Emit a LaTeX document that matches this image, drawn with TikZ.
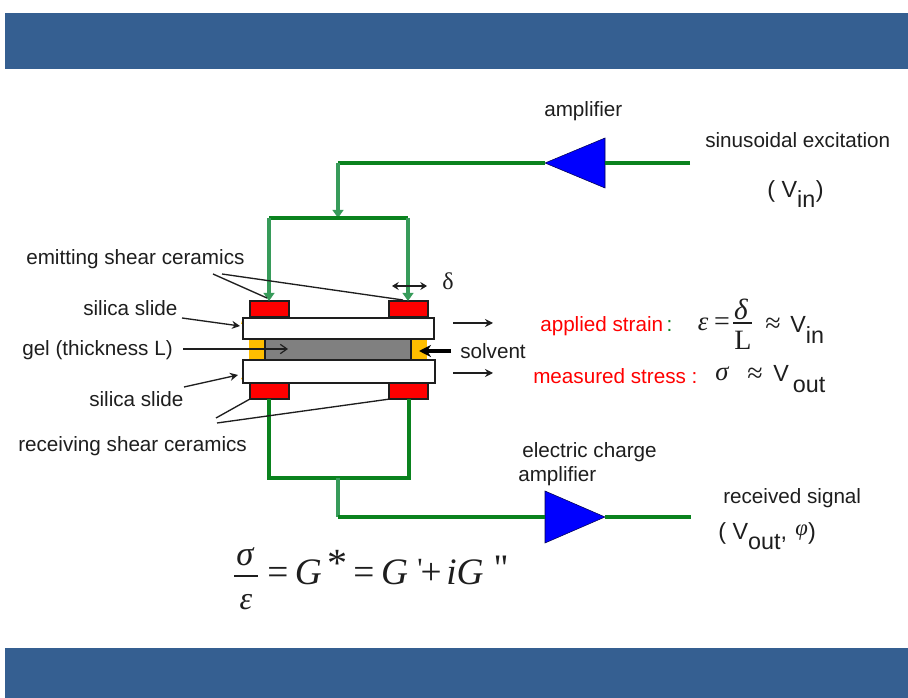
\documentclass[tikz,border=0pt]{standalone}
\usepackage{fontspec}
\setmainfont{Liberation Sans}
\newfontfamily\ser{Liberation Serif}
\usetikzlibrary{shapes.geometric,arrows.meta}
\definecolor{bar}{RGB}{53,95,145}
\definecolor{dgreen}{RGB}{10,130,30}
\definecolor{lgreen}{RGB}{55,155,90}
\definecolor{amber}{RGB}{255,190,0}
\definecolor{ink}{RGB}{30,30,30}
\newcommand{\lab}[1]{\raisebox{-8pt}{#1}}
\tikzset{
  px/.style={minimum width=#1*0.75pt},
  py/.style={minimum height=#1*0.75pt},
  box/.style={draw=ink,line width=1pt,inner sep=0pt,outer sep=0pt,anchor=north west},
  ceramic/.style={box,fill=red,px=39,py=16},
  slide/.style={box,fill=white},
  amp/.style={isosceles triangle,isosceles triangle stretches,draw=black!70!blue,line width=.4pt,fill=blue,inner sep=0pt,outer sep=0pt,minimum width=37.5pt,minimum height=45pt},
  bandbar/.style={fill=bar,inner sep=0pt,outer sep=0pt,anchor=north west},
  txt/.style={anchor=base west,inner sep=0pt,font=\fontsize{15.5}{18}\selectfont,text=ink},
  big/.style={anchor=base west,inner sep=0pt,font=\fontsize{17.5}{20}\selectfont,text=ink},
  red label/.style={txt,text=red},
  serif/.style={anchor=base,inner sep=0pt,text=ink,font=\ser\fontsize{#1}{24}\selectfont},
  serifi/.style={anchor=base,inner sep=0pt,text=ink,font=\ser\itshape\fontsize{#1}{24}\selectfont},
  wire/.style={draw=dgreen,line width=2.4pt},
  lwire/.style={draw=lgreen,line width=2.6pt},
  lwiretip/.style={lwire,-{Triangle[length=6pt,width=8pt]}},
  leader/.style={draw=ink,line width=1pt},
  ptr/.style={leader,-{Stealth[length=6pt,width=6pt]}},
  oarrow/.style={draw=ink,line width=.9pt,-{Straight Barb[length=5pt,width=7pt]}},
}
\begin{document}
\begin{tikzpicture}[x=0.75pt,y=-0.75pt]
\useasboundingbox (0,0) rectangle (908,698);
\fill[white] (0,0) rectangle (908,698);
\node[bandbar,minimum width=677.25pt,minimum height=42pt] (topband) at (5,13) {};
\node[bandbar,minimum width=677.25pt,minimum height=37.5pt] (botband) at (5,648) {};
% stack
\fill[amber] (241,324) -- (243,317) -- (245,324) -- cycle;
\fill[amber] (241,378) -- (245,378) -- (243,382) -- cycle;
\node[box,draw=none,fill=amber,px=16,py=21] (ol) at (249,339) {};
\node[box,draw=none,fill=amber,px=16,py=21] (or) at (411,339) {};
\node[box,fill=black!50,px=146,py=21] (gel) at (265,339) {};
\node[slide,px=191,py=21] (s1) at (243,318) {};
\node[slide,px=192,py=23] (s2) at (243,360) {};
\node[ceramic] (c1) at (250,301) {};
\node[ceramic] (c2) at (389,301) {};
\node[ceramic] (c3) at (250,383) {};
\node[ceramic] (c4) at (389,383) {};
% amplifiers
\node[amp,shape border rotate=180,anchor=apex] (a1) at (545,163) {};
\node[amp,minimum width=39pt,anchor=apex] (a2) at (605,517) {};
% coordinates
\coordinate (inE) at (690,163);
\coordinate (tc) at (338,163);
\coordinate (tj) at (338,218);
\coordinate (tl) at (269,218);
\coordinate (tr) at (408,218);
\coordinate (bl) at (269,478);
\coordinate (br) at (409,478);
\coordinate (bj) at (338,478);
\coordinate (bc) at (338,517);
\coordinate (outE) at (691,517);
% wires
\draw[wire] (inE) -- (a1.lower side);
\draw[wire] (a1.apex) -- (tc);
\draw[lwiretip] (tc) -- (tj);
\draw[wire] (tl) -- (tr);
\draw[lwiretip] (tl) -- (tl |- c1.north);
\draw[lwiretip] (tr) -- (tr |- c2.north);
\draw[wire,line join=miter] (bl |- c3.south) -- (bl) -- (br) -- (br |- c4.south);
\draw[lwire] (bj) -- (bc);
\draw[wire] (bc) -- (a2.lower side);
\draw[wire] (a2.apex) -- (outE);
% labels
\node[txt] (t1) at (26,265) {emitting shear ceramics};
\node[txt] (t2) at (83,316) {silica slide};
\node[txt] (t3) at (22,356) {gel (thickness L)};
\node[txt] (t4) at (89,407) {silica slide};
\node[txt] (t5) at (18,452) {receiving shear ceramics};
\node[txt] (t6) at (460,359) {solvent};
\node[txt] (t7) at (544,117) {amplifier};
\node[txt] (t8) at (705,148) {sinusoidal excitation};
\node[big] (t9) at (767,198) {( V\raisebox{-7pt}{in}\hspace{.5pt})};
\node[txt] (t10) at (522,458) {electric charge};
\node[txt] (t11) at (518,482) {amplifier};
\node[txt] (t12) at (723,504) {received signal};
\node[big] (t13) at (718,540) {( V\raisebox{-7pt}{out}, \hspace{1.5pt}\raisebox{3pt}{\ser\itshape\fontsize{17}{18}\selectfont φ})};
\node[red label] (t14) at (540,332) {applied strain\textcolor{dgreen}{\,:}};
\node[red label] (t15) at (533,384) {measured stress :};
\node[serif=18] (t16) at (448,290) {δ};
% strain formula
\node[serifi=20] (e1) at (703,331) {ε};
\node[serif=21] (e2) at (722,331) {=};
\node[serifi=22] (e3) at (741,320) {δ};
\node[serif=21] (e4) at (743,350) {L};
\coordinate (e5) at (733,323);
\coordinate (e6) at (752,323);
\draw[ink,line width=.8pt] (e5) -- (e6);
\node[serif=21] (e7) at (773,333) {≈};
\node[big] (e8) at (790,333) {V\lab{in}};
% stress formula
\node[serifi=20] (f1) at (722,381) {σ};
\node[serif=21] (f2) at (755,383) {≈};
\node[big] (f3) at (773,382) {V\hspace{3pt}\lab{out}};
% main formula
\node[serifi=26] (g1) at (245,566) {σ};
\node[serifi=24] (g2) at (246,610) {ε};
\coordinate (g3) at (234,576);
\coordinate (g4) at (258,576);
\draw[ink,line width=.8pt] (g3) -- (g4);
\node[anchor=base west,inner sep=0pt,font=\ser\fontsize{28}{30}\selectfont,text=ink] (g5) at (267,585)
 {=\hspace{5pt}\textit{G}\hspace{4pt}\raisebox{6pt}{\fontsize{30}{30}\selectfont *}\hspace{4.5pt}=\hspace{5pt}\textit{G}\hspace{7pt}\fontsize{22}{22}\selectfont\raisebox{5pt}{'}\fontsize{28}{30}\selectfont\hspace{-1.5pt}+\hspace{3.5pt}\textit{iG}\hspace{8pt}\fontsize{28}{28}\selectfont\raisebox{3pt}{''}};
% leaders
\coordinate (p1) at (213,274);
\coordinate (p1e) at (267,298);
\coordinate (p2) at (222,274);
\coordinate (p2e) at (403,300);
\coordinate (p3) at (182,318);
\coordinate (p3e) at (240,326);
\coordinate (p4) at (184,387);
\coordinate (p4e) at (238,375);
\coordinate (p5) at (183,349);
\coordinate (p5e) at (288,349);
\coordinate (p6) at (216,418);
\coordinate (p6e) at (250,399);
\coordinate (p7) at (217,423);
\coordinate (p7e) at (390,399);
\draw[leader] (p1) -- (p1e);
\draw[leader] (p2) -- (p2e);
\draw[ptr] (p3) -- (p3e);
\draw[ptr] (p4) -- (p4e);
\draw[oarrow] (p5) -- (p5e);
\draw[leader] (p6) -- (p6e);
\draw[leader] (p7) -- (p7e);
% small arrows
\coordinate (d1) at (392,286);
\coordinate (d2) at (427,286);
\draw[leader,{Stealth[length=5pt,width=6pt]}-{Stealth[length=5pt,width=6pt]}] (d1) -- (d2);
\coordinate (m1) at (453,323);
\coordinate (m1e) at (493,323);
\coordinate (m2) at (453,373);
\coordinate (m2e) at (493,373);
\draw[ptr] (m1) -- (m1e);
\draw[ptr] (m2) -- (m2e);
\coordinate (sv) at (451,351);
\coordinate (sve) at (419,351);
\draw[draw=black,line width=2.3pt,-{Stealth[length=9pt,width=9pt]}] (sv) -- (sve);
\end{tikzpicture}
\end{document}
